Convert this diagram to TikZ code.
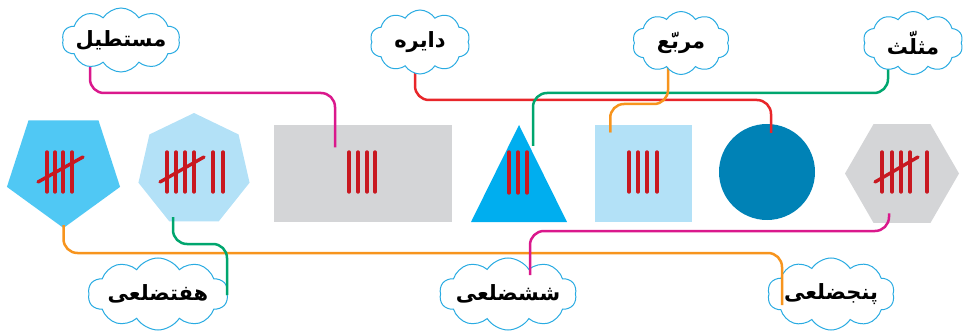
\documentclass[tikz,border=0pt]{standalone}
\usepackage{fontspec}
\newfontfamily\farsi[Script=Arabic]{DejaVu Sans}
\TeXXeTstate=1
\usetikzlibrary{calc,shapes.geometric,shapes.symbols}
\usepackage{xcolor}
\definecolor{cloudblue}{RGB}{41,171,226}
\definecolor{pentblue}{RGB}{80,200,244}
\definecolor{paleblue}{RGB}{179,225,247}
\definecolor{boxgray}{RGB}{212,213,215}
\definecolor{triblue}{RGB}{0,174,239}
\definecolor{circblue}{RGB}{0,130,182}
\definecolor{tallyred}{RGB}{200,24,32}
\definecolor{linkpink}{RGB}{218,24,140}
\definecolor{linkred}{RGB}{232,38,42}
\definecolor{linkgreen}{RGB}{0,166,110}
\definecolor{linkorange}{RGB}{247,148,29}
\pgfdeclarelayer{front}
\pgfsetlayers{main,front}

\begin{document}
\begin{tikzpicture}[
  x=1pt, y=-1pt,
  cloudbox/.style={cloud, cloud puffs=10, cloud puff arc=115, cloud ignores aspect, draw=cloudblue, fill=white, line width=1pt, inner xsep=-24pt, inner ysep=-8pt, font=\farsi\bfseries\fontsize{21}{24}\selectfont},
  shapefill/.style={draw=none, inner sep=0pt, outer sep=0pt},
  tick/.style={draw=tallyred, line width=3.4pt, line cap=round},
  link/.style={line width=2.5pt, rounded corners=14pt}
]
\useasboundingbox (0,0) rectangle (966,331);

% shapes
\node[shapefill, regular polygon, regular polygon sides=5, shape border rotate=180, minimum size=119pt, fill=pentblue] (pent) at (63.5,168.5) {};
\node[shapefill, regular polygon, regular polygon sides=7, minimum size=114pt, fill=paleblue] (hept) at (194,170) {};
\node[shapefill, rectangle, minimum width=178pt, minimum height=97pt, fill=boxgray] (rect) at (363,173.5) {};
\fill[triblue] (519,125) coordinate (tri-apex) -- (567,222) -- (471,222) -- cycle;
\node[shapefill, rectangle, minimum size=97pt, fill=paleblue] (sq) at (643.5,173.5) {};
\node[shapefill, circle, minimum size=96pt, fill=circblue] (circ) at (767,172) {};
\node[shapefill, regular polygon, regular polygon sides=6, minimum size=114pt, fill=boxgray] (hex) at (902,173.5) {};

% tally marks
\foreach \x in {47,55,63,72} \draw[tick] (\x,152) -- (\x,192);
\draw[tick] (38,182) -- (83,157);
\foreach \x in {167,176,185,194,213,223} \draw[tick] (\x,152) -- (\x,192);
\draw[tick] (160,182) -- (204,157);
\foreach \x in {349,358,367,375} \draw[tick] (\x,152) -- (\x,192);
\foreach \x in {509,518,527} \draw[tick] (\x,152) -- (\x,193);
\foreach \x in {629,638,647,657} \draw[tick] (\x,152) -- (\x,192);
\foreach \x in {882,892,901,910,927} \draw[tick] (\x,152) -- (\x,192);
\draw[tick] (875,182) -- (918,157);

% clouds
\begin{pgfonlayer}{front}
\node[cloudbox, minimum width=118pt, minimum height=64pt] (c-rect) at (121,40) {\beginR مستطیل\endR};
\node[cloudbox, minimum width=100pt, minimum height=64pt] (c-circ) at (420,42) {\beginR دایره\endR};
\node[cloudbox, minimum width=97pt, minimum height=63pt] (c-sq) at (681,43) {\beginR مربّع\endR};
\node[cloudbox, minimum width=100pt, minimum height=63pt] (c-tri) at (913,43) {\beginR مثلّث\endR};
\end{pgfonlayer}
\node[cloudbox, minimum width=140pt, minimum height=72pt] (c-hept) at (158,294) {\beginR هفتضلعی\endR};
\node[cloudbox, minimum width=137pt, minimum height=72pt] (c-hex) at (508,294) {\beginR ششضلعی\endR};
\node[cloudbox, minimum width=127pt, minimum height=72pt] (c-pent) at (831,294) {\beginR پنجضلعی\endR};

% connectors
\draw[link, draw=linkorange] ($(pent.corner 1)+(0,-3)$) |- (782,253) -- ($(c-pent.center)+(-49,11)$);
\draw[link, draw=linkgreen] ($(hept.center)+(-21,47)$) |- (227,244) -- ($(c-hept.center)+(69,1)$);
\draw[link, draw=linkpink] ($(hex.center)+(-13,40)$) |- (530,231) -- ($(c-hex.center)+(22,-19)$);
\draw[link, draw=linkpink] ($(c-rect.center)+(-31,0)$) |- (335,93) -- ($(rect.center)+(-28,-26)$);
\draw[link, draw=linkred] ($(c-circ.center)+(-5,0)$) |- (771,100) -- ($(circ.center)+(4,-39)$);
\draw[link, draw=linkgreen] ($(c-tri.center)+(-25,0)$) |- (533,93) -- ($(tri-apex)+(14,21)$);
\draw[link, draw=linkorange] ($(c-sq.center)+(-13,0)$) |- (610,104) -- ($(sq.center)+(-33,-41)$);
\end{tikzpicture}
\end{document}
